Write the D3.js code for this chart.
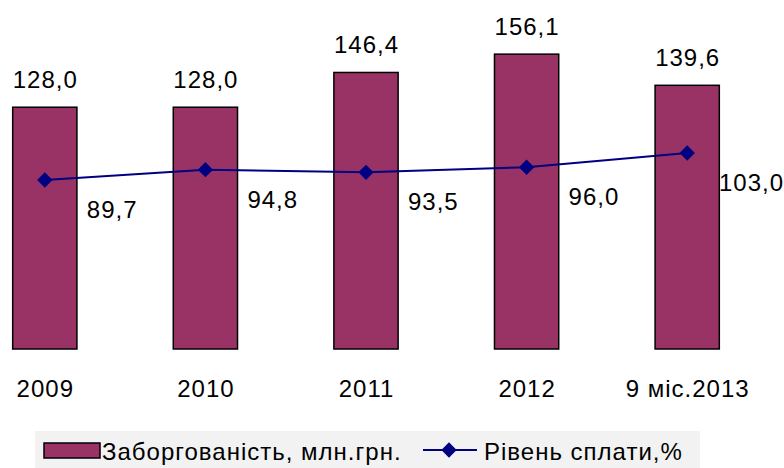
<!DOCTYPE html>
<html>
<head>
<meta charset="utf-8">
<script src="https://cdn.jsdelivr.net/npm/d3@7"></script>
<style>
  body { margin: 0; background: #fff; }
  svg text { font-family: "Liberation Sans", Arial, sans-serif; fill: #000; letter-spacing: 1px; }
</style>
</head>
<body>
<div id="chart"></div>
<script>
const categories = ["2009", "2010", "2011", "2012", "9 міс.2013"];
const debt = [128.0, 128.0, 146.4, 156.1, 139.6];
const payRate = [89.7, 94.8, 93.5, 96.0, 103.0];
const seriesNames = ["Заборгованість, млн.грн.", "Рівень сплати,%"];

const fmt = v => v.toFixed(1).replace(".", ",");

const width = 784, height = 468;
const svg = d3.select("#chart").append("svg")
  .attr("width", width).attr("height", height);

const x = d3.scaleBand()
  .domain(categories)
  .range([-35.5, 767.5])
  .paddingInner(0.6)
  .paddingOuter(0.3);

const y = d3.scaleLinear().domain([0, 180]).range([349, 9]);
const y2 = d3.scaleLinear().domain([80, 110]).range([199.7, 138.8]);

const data = categories.map((c, i) => ({ cat: c, debt: debt[i], rate: payRate[i] }));

// bars
svg.append("g").selectAll("rect").data(data).enter().append("rect")
  .attr("x", d => x(d.cat))
  .attr("y", d => y(d.debt))
  .attr("width", x.bandwidth())
  .attr("height", d => y(0) - y(d.debt))
  .attr("fill", "#993366")
  .attr("stroke", "#000")
  .attr("stroke-width", 1.5);

// bar labels
svg.append("g").selectAll("text").data(data).enter().append("text")
  .attr("x", d => x(d.cat) + x.bandwidth() / 2 + 0.5)
  .attr("y", d => y(d.debt) - 19)
  .attr("text-anchor", "middle")
  .style("font-size", "24px")
  .text(d => fmt(d.debt));

// category labels
svg.append("g").selectAll("text").data(data).enter().append("text")
  .attr("x", d => x(d.cat) + x.bandwidth() / 2 + 0.5)
  .attr("y", 397)
  .attr("text-anchor", "middle")
  .style("font-size", "24px")
  .text(d => d.cat);

// line
const cx = d => x(d.cat) + x.bandwidth() / 2;
const line = d3.line().x(cx).y(d => y2(d.rate));
svg.append("path").datum(data)
  .attr("d", line)
  .attr("fill", "none")
  .attr("stroke", "#000080")
  .attr("stroke-width", 2);

const diamond = d3.symbol().type(d3.symbolDiamond2).size(150);
svg.append("g").selectAll("path").data(data).enter().append("path")
  .attr("transform", d => `translate(${cx(d)},${y2(d.rate)})`)
  .attr("d", diamond)
  .attr("fill", "#000080");

// line labels
svg.append("g").selectAll("text").data(data).enter().append("text")
  .attr("x", d => cx(d) + 42)
  .attr("y", d => y2(d.rate) + 38)
  .style("font-size", "24px")
  .text(d => fmt(d.rate))
  .each(function () {
    const w = this.getComputedTextLength();
    const x0 = +this.getAttribute("x");
    if (x0 + w > width) this.setAttribute("x", width - w);
  });

// legend
const lg = svg.append("g");
lg.append("rect")
  .attr("x", 35).attr("y", 431).attr("width", 665).attr("height", 40)
  .attr("fill", "#f2f2f2");
lg.append("rect")
  .attr("x", 44).attr("y", 443).attr("width", 56).attr("height", 15)
  .attr("fill", "#993366").attr("stroke", "#000").attr("stroke-width", 1.5);
lg.append("text").attr("x", 102).attr("y", 460)
  .style("font-size", "24px").text(seriesNames[0]);
lg.append("line")
  .attr("x1", 423).attr("x2", 477).attr("y1", 450).attr("y2", 450)
  .attr("stroke", "#000080").attr("stroke-width", 2);
lg.append("path")
  .attr("transform", "translate(449,450)")
  .attr("d", diamond)
  .attr("fill", "#000080");
lg.append("text").attr("x", 484).attr("y", 460)
  .style("font-size", "24px").text(seriesNames[1]);
</script>
</body>
</html>
